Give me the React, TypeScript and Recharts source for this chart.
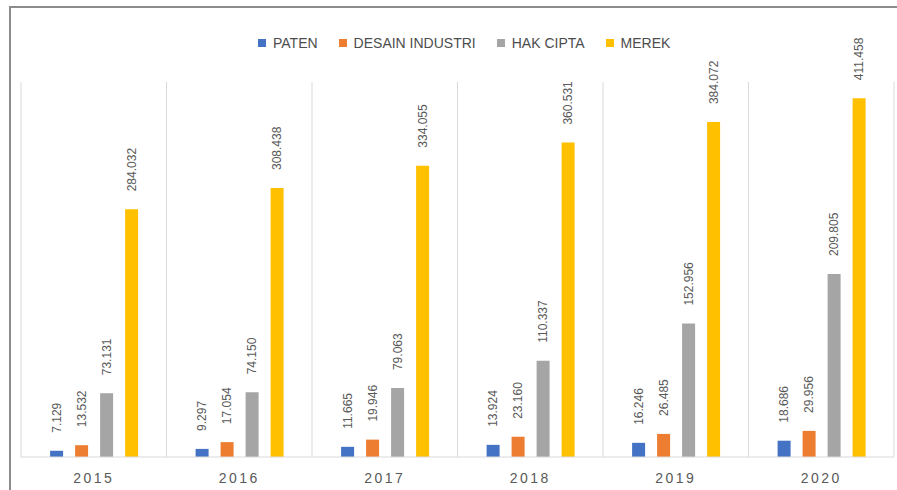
import React from "react";
import { BarChart, Bar, XAxis, YAxis, CartesianGrid, Legend, LabelList } from "recharts";

const years = ["2015", "2016", "2017", "2018", "2019", "2020"];
const paten = [7.129, 9.297, 11.665, 13.924, 16.246, 18.686];
const desainIndustri = [13.532, 17.054, 19.946, 23.16, 26.485, 29.956];
const hakCipta = [73.131, 74.15, 79.063, 110.337, 152.956, 209.805];
const merek = [284.032, 308.438, 334.055, 360.531, 384.072, 411.458];

const seriesNames = ["PATEN", "DESAIN INDUSTRI", "HAK CIPTA", "MEREK"];
const seriesKeys = ["paten", "desain", "hak", "merek"];
const seriesColors = ["#4472c4", "#ed7d31", "#a5a5a5", "#ffc000"];

const data = years.map((y, i) => ({
  year: y,
  paten: paten[i],
  desain: desainIndustri[i],
  hak: hakCipta[i],
  merek: merek[i],
}));

const fmt = (v: number) => v.toFixed(3);

const TEXT = "#595959";
const FONT = "'Liberation Sans', Arial, sans-serif";

const RotLabel = (props: any) => {
  const { x, y, width, value } = props;
  const cx = Number(x) + Number(width) / 2;
  const ay = Number(y) - 18;
  return (
    <text
      x={cx}
      y={ay}
      transform={`rotate(-90, ${cx}, ${ay})`}
      textAnchor="start"
      dominantBaseline="central"
      fontSize={12}
      fontFamily={FONT}
      fill={TEXT}
    >
      {fmt(Number(value))}
    </text>
  );
};

const YearTick = (props: any) => {
  const { x, y, payload } = props;
  return (
    <text
      x={x}
      y={y + 18}
      textAnchor="middle"
      fontSize={14}
      fontFamily={FONT}
      fill={TEXT}
      letterSpacing={2.5}
    >
      {payload.value}
    </text>
  );
};

const LegendContent = () => (
  <div style={{ display: "flex", alignItems: "center", fontFamily: FONT, fontSize: 14, color: "#4d4d4d" }}>
    {seriesNames.map((n, i) => (
      <div key={n} style={{ display: "flex", alignItems: "center", marginRight: 21 }}>
        <span style={{ display: "inline-block", width: 8, height: 8, background: seriesColors[i], marginRight: 7 }} />
        <span>{n}</span>
      </div>
    ))}
  </div>
);

export default function App() {
  return (
    <div style={{ position: "fixed", left: 0, top: 0, width: 897, height: 490, background: "#fff" }}>
      <div
        style={{
          position: "absolute",
          left: 9,
          top: 6,
          width: 900,
          height: 500,
          borderLeft: "2px solid #8c8c8c",
          borderTop: "2px solid #8c8c8c",
        }}
      />
      <div style={{ position: "absolute", left: 0, top: 0 }}>
        <BarChart
          width={897}
          height={490}
          data={data}
          margin={{ top: 66, right: 3, left: 21, bottom: 0 }}
          barCategoryGap="20%"
          barGap={12}
        >
          <CartesianGrid
            horizontal={false}
            stroke="#d9d9d9"
            verticalCoordinatesGenerator={({ offset }: any) =>
              years.map((_, i) => offset.left + (i * offset.width) / years.length).concat([offset.left + offset.width])
            }
          />
          <XAxis
            dataKey="year"
            height={33}
            axisLine={{ stroke: "#d9d9d9" }}
            tickLine={false}
            tick={<YearTick />}
            interval={0}
          />
          <YAxis hide domain={[0, 430]} />
          <Legend
            verticalAlign="top"
            content={<LegendContent />}
            wrapperStyle={{ top: 35, left: 258, width: 500 }}
          />
          {seriesKeys.map((k, i) => (
            <Bar key={k} dataKey={k} name={seriesNames[i]} fill={seriesColors[i]} isAnimationActive={false}>
              <LabelList dataKey={k} content={<RotLabel />} />
            </Bar>
          ))}
        </BarChart>
      </div>
    </div>
  );
}
